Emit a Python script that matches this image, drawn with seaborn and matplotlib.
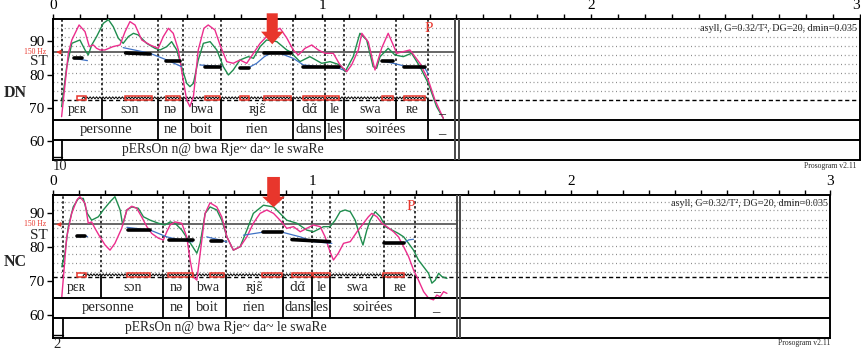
import numpy as np
import pandas as pd
import matplotlib
matplotlib.use("Agg")
import matplotlib.pyplot as plt
from matplotlib.patches import Rectangle
import seaborn as sns

sns.set_theme(style="white")
plt.rcParams["font.family"] = ["Liberation Serif", "DejaVu Serif"]

PINK = "#ec2d8d"
GREEN = "#1f8d4e"
BLUE = "#3f72c6"
RED = "#e8362c"
GRID = "#8c8c8c"

# ---------------- sentence DN ----------------
dn_pink_t = [0.032, 0.057, 0.070, 0.097, 0.119, 0.135, 0.150, 0.162, 0.175, 0.193,
             0.223, 0.249, 0.268, 0.286, 0.305, 0.330, 0.361, 0.391, 0.410, 0.429,
             0.447, 0.466, 0.482, 0.497, 0.509, 0.522, 0.540, 0.561, 0.577, 0.602,
             0.621, 0.646, 0.670, 0.695, 0.720, 0.745, 0.770, 0.794, 0.819, 0.844,
             0.869, 0.893, 0.912, 0.937, 0.962, 0.986, 1.011, 1.042, 1.067, 1.092,
             1.110, 1.135, 1.148, 1.172, 1.197, 1.222, 1.246, 1.278, 1.302, 1.327,
             1.364, 1.395, 1.420, 1.451]
dn_pink_st = [67.4, 86.4, 90.4, 94.9, 92.9, 88.4, 88.9, 87.9, 87.4, 87.4,
              88.4, 88.9, 92.9, 95.9, 94.9, 90.4, 88.9, 87.9, 91.4, 93.9,
              92.4, 87.4, 79.4, 72.4, 70.4, 73.4, 87.4, 93.9, 94.9, 93.4,
              88.9, 83.9, 83.4, 84.4, 83.4, 86.4, 89.4, 91.4, 92.9, 93.9,
              91.0, 87.4, 85.9, 87.9, 88.9, 87.4, 86.4, 86.4, 82.9, 80.9,
              82.9, 87.4, 92.4, 89.8, 81.4, 88.0, 92.4, 86.4, 86.9, 87.4,
              83.4, 78.4, 72.4, 66.9]

dn_green_t = [0.032, 0.051, 0.070, 0.100, 0.119, 0.131, 0.144, 0.162, 0.187, 0.206,
              0.224, 0.243, 0.261, 0.280, 0.299, 0.317, 0.348, 0.379, 0.398, 0.423,
              0.441, 0.460, 0.478, 0.497, 0.509, 0.522, 0.540, 0.559, 0.584, 0.609,
              0.633, 0.652, 0.670, 0.695, 0.726, 0.745, 0.770, 0.794, 0.832, 0.869,
              0.881, 0.918, 0.955, 0.999, 1.030, 1.067, 1.086, 1.116, 1.141, 1.166,
              1.190, 1.203, 1.216, 1.246, 1.271, 1.302, 1.333, 1.364, 1.395, 1.426,
              1.451]
dn_green_st = [70.4, 82.4, 89.4, 90.4, 87.4, 85.9, 88.9, 91.4, 95.4, 96.5,
               94.4, 90.9, 89.4, 91.4, 92.4, 91.9, 89.4, 87.9, 87.4, 88.4,
               89.9, 87.4, 82.4, 77.4, 76.4, 77.4, 84.4, 89.4, 89.9, 87.4,
               82.4, 79.9, 81.4, 84.4, 85.4, 84.9, 88.4, 90.4, 89.9, 87.4,
               86.9, 83.9, 85.4, 83.4, 83.9, 82.9, 80.9, 85.4, 92.4, 90.4,
               82.4, 81.9, 85.4, 87.9, 85.9, 85.4, 86.4, 82.4, 77.4, 70.4,
               66.9]

dn_blue_seg = [0, 0, 1, 1, 1, 1, 2, 2, 3, 3, 3, 3, 3, 4, 4, 4, 4, 4, 4, 5, 5, 5, 5, 5]
dn_blue_t = [0.078, 0.128, 0.261, 0.361, 0.423, 0.478, 0.546, 0.628,
             0.695, 0.727, 0.757, 0.786, 0.807, 0.844, 0.893, 0.931, 0.993, 1.064, 1.079,
             1.222, 1.265, 1.306, 1.383, 1.395]
dn_blue_st = [84.9, 84.2, 88.1, 86.4, 84.4, 82.4, 82.9, 82.4,
              82.1, 82.1, 83.4, 85.4, 86.4, 86.4, 84.9, 82.9, 82.4, 81.9, 81.4,
              84.1, 83.4, 82.6, 81.9, 80.2]

dn_tone_t0 = [0.078, 0.270, 0.419, 0.564, 0.695, 0.786, 0.931, 1.222, 1.306]
dn_tone_t1 = [0.107, 0.361, 0.472, 0.621, 0.727, 0.885, 1.064, 1.265, 1.383]
dn_tone_st0 = [84.9, 86.5, 84.0, 82.4, 82.1, 86.4, 82.3, 84.1, 82.4]
dn_tone_st1 = [84.9, 86.2, 84.0, 82.4, 82.1, 86.4, 82.3, 84.1, 82.4]

dn_nuc_t0 = [0.088, 0.268, 0.419, 0.564, 0.695, 0.786, 0.931, 1.011, 1.222, 1.306]
dn_nuc_t1 = [0.123, 0.367, 0.473, 0.621, 0.727, 0.885, 1.011, 1.064, 1.265, 1.383]

dn_syll_bounds = [0.0, 0.181, 0.391, 0.482, 0.623, 0.893, 1.011, 1.083, 1.274, 1.393, 1.494]
dn_word_bounds = [0.0, 0.391, 0.482, 0.623, 0.893, 1.011, 1.083, 1.393, 1.494]

# ---------------- sentence NC ----------------
nc_pink_t = [0.034, 0.053, 0.072, 0.092, 0.104, 0.124, 0.136, 0.149, 0.162, 0.181,
             0.201, 0.220, 0.239, 0.265, 0.285, 0.304, 0.323, 0.342, 0.362, 0.381,
             0.407, 0.426, 0.439, 0.452, 0.470, 0.497, 0.516, 0.529, 0.541, 0.555,
             0.568, 0.587, 0.606, 0.632, 0.651, 0.671, 0.696, 0.722, 0.748, 0.773,
             0.799, 0.825, 0.851, 0.876, 0.902, 0.928, 0.954, 0.979, 1.005, 1.031,
             1.050, 1.069, 1.082, 1.101, 1.121, 1.147, 1.173, 1.198, 1.217, 1.230,
             1.250, 1.269, 1.288, 1.314, 1.333, 1.353, 1.372, 1.391, 1.410, 1.430,
             1.449, 1.468, 1.481, 1.494, 1.507, 1.520]
nc_pink_st = [65.5, 83.1, 90.0, 93.9, 94.9, 92.9, 87.1, 87.5, 85.6, 83.1,
              80.7, 79.2, 81.2, 85.6, 91.0, 92.1, 91.5, 89.0, 86.1, 84.1,
              82.7, 82.2, 84.6, 86.6, 87.5, 87.1, 83.1, 76.3, 71.4, 70.4,
              78.3, 90.0, 93.1, 91.9, 89.0, 83.1, 79.2, 80.2, 83.1, 87.1,
              90.0, 91.0, 90.0, 88.0, 85.6, 86.1, 84.6, 85.6, 86.6, 86.1,
              83.1, 78.7, 76.3, 78.3, 81.2, 81.7, 84.6, 87.1, 89.0, 90.0,
              89.0, 87.1, 86.1, 84.6, 83.1, 80.2, 77.3, 73.4, 70.4, 67.0,
              65.1, 64.6, 66.0, 65.5, 67.0, 66.5]

nc_green_t = [0.034, 0.046, 0.059, 0.078, 0.098, 0.117, 0.132, 0.149, 0.175, 0.194,
              0.220, 0.239, 0.259, 0.269, 0.285, 0.304, 0.329, 0.349, 0.375, 0.407,
              0.432, 0.452, 0.471, 0.497, 0.522, 0.555, 0.568, 0.587, 0.606, 0.632,
              0.651, 0.671, 0.696, 0.722, 0.748, 0.773, 0.812, 0.851, 0.876, 0.902,
              0.941, 0.979, 1.005, 1.044, 1.069, 1.089, 1.108, 1.127, 1.147, 1.166,
              1.185, 1.196, 1.211, 1.224, 1.243, 1.263, 1.282, 1.308, 1.333, 1.353,
              1.372, 1.391, 1.410, 1.430, 1.449, 1.462, 1.475, 1.488, 1.501, 1.520]
nc_green_st = [74.3, 78.3, 86.1, 91.9, 94.4, 94.4, 90.0, 88.0, 89.0, 91.0,
               93.4, 94.9, 91.0, 86.6, 91.0, 91.9, 91.5, 89.0, 88.0, 87.1,
               86.6, 87.5, 87.1, 85.1, 82.2, 78.3, 81.2, 90.0, 91.9, 91.0,
               88.0, 83.1, 79.2, 80.2, 85.1, 90.0, 92.4, 91.9, 90.0, 88.0,
               87.1, 85.1, 84.6, 86.1, 86.1, 88.0, 90.5, 91.0, 90.5, 88.0,
               83.1, 80.7, 85.1, 88.0, 90.5, 89.0, 86.1, 85.1, 84.1, 83.1,
               81.2, 79.2, 76.3, 74.3, 72.4, 69.5, 70.4, 72.4, 71.4, 70.9]

nc_blue_seg = [0, 0, 1, 1, 1, 1, 1, 2, 2, 2, 3, 3, 3, 3, 3, 3, 4, 4, 4, 4]
nc_blue_t = [0.094, 0.132, 0.285, 0.375, 0.439, 0.490, 0.539, 0.593, 0.654, 0.671,
             0.735, 0.812, 0.883, 0.954, 1.005, 1.076, 1.278, 1.353, 1.372, 1.391]
nc_blue_st = [83.3, 83.3, 85.9, 85.1, 83.1, 82.2, 81.6, 83.1, 82.0, 81.6,
              83.6, 84.5, 84.5, 83.1, 81.7, 81.2, 81.2, 81.2, 82.2, 82.4]

nc_tone_t0 = [0.094, 0.288, 0.448, 0.610, 0.812, 0.922, 1.278]
nc_tone_t1 = [0.124, 0.375, 0.539, 0.654, 0.883, 1.067, 1.353]
nc_tone_st0 = [83.3, 85.1, 82.2, 82.0, 84.5, 82.3, 81.2]
nc_tone_st1 = [83.3, 85.1, 82.2, 82.0, 84.5, 81.7, 81.2]

nc_nuc_t0 = [0.092, 0.285, 0.445, 0.606, 0.806, 0.922, 1.005, 1.275]
nc_nuc_t1 = [0.127, 0.375, 0.539, 0.658, 0.883, 0.999, 1.067, 1.353]

nc_syll_bounds = [0.0, 0.185, 0.426, 0.526, 0.668, 0.887, 1.001, 1.069, 1.278, 1.398, 1.559]
nc_word_bounds = [0.0, 0.426, 0.526, 0.668, 0.887, 1.001, 1.069, 1.398, 1.559]

# ---------------- shared tiers ----------------
syll_labels = ["pɛʀ", "sɔn", "nə", "bwa", "ʀjɛ̃", "dɑ̃", "le", "swa", "ʀe", "_"]
word_labels = ["personne", "ne", "boit", "rien", "dans", "les", "soirées", "_"]
phon_text = "pERsOn n@ bwa Rje~ da~ le swaRe"
y_ticks = [60, 70, 80, 90]
x_ticks = [0, 1, 2, 3]
ref_st = 86.74          # 150 Hz expressed in semitones re 1 Hz
params_text = "asyll, G=0.32/T², DG=20, dmin=0.035"

W, H = 862, 352


def px_rect(x0, y0, x1, y1):
    return [x0 / W, 1 - y1 / H, (x1 - x0) / W, (y1 - y0) / H]


def draw_panel(ax, P):
    ylo, yhi = P["ylim"]
    base, sw, wt = P["tiers"]
    t_end = P["syll"][-1]
    ax.set_xlim(0, 3)
    ax.set_ylim(ylo, yhi)
    ax.grid(False)

    # dotted pitch grid
    for g in P["grid"]:
        ax.plot([0, 3], [g, g], color=GRID, lw=0.9, ls=(0, (0.8, 2.2)), zorder=1)
    # 150 Hz reference
    ax.plot([0, t_end], [ref_st, ref_st], color="#666666", lw=1.4, zorder=2)
    # bottom of pitch area
    ax.plot([0, 3], [base, base], color="black", lw=1.0, ls=(0, (3, 2)), zorder=3)

    # syllable boundaries in the pitch area
    for b in [P["onset"]] + P["syll"][1:-1]:
        ax.plot([b, b], [base, yhi], color="black", lw=1.1, ls=(0, (1.6, 1.6)), zorder=3)

    # contours
    sns.lineplot(x=P["green_t"], y=P["green_st"], ax=ax, color=GREEN, lw=1.0,
                 sort=False, estimator=None, legend=False, zorder=5)
    sns.lineplot(x=P["pink_t"], y=P["pink_st"], ax=ax, color=PINK, lw=1.0,
                 sort=False, estimator=None, legend=False, zorder=6)
    blue = pd.DataFrame({"t": P["blue_t"], "st": P["blue_st"], "seg": P["blue_seg"]})
    sns.lineplot(data=blue, x="t", y="st", units="seg", ax=ax, color=BLUE, lw=0.9,
                 sort=False, estimator=None, legend=False, zorder=7)
    n = len(P["tone_t0"])
    tones = pd.DataFrame({
        "t": list(P["tone_t0"]) + list(P["tone_t1"]),
        "st": list(P["tone_st0"]) + list(P["tone_st1"]),
        "seg": list(range(n)) * 2,
    })
    sns.lineplot(data=tones, x="t", y="st", units="seg", ax=ax, color="black", lw=2.6,
                 sort=False, estimator=None, legend=False, zorder=8)

    # voicing zigzag and nucleus boxes
    zz0, zz1 = P["zigzag"]
    zx = np.arange(zz0, zz1, 0.006)
    zy = P["box_mid"] + np.where(np.arange(len(zx)) % 2 == 0, -0.3, 0.3)
    ax.plot(zx, zy, color="black", lw=0.7, zorder=4)
    bh = P["box_h"]
    for a, b in zip(P["nuc_t0"], P["nuc_t1"]):
        ax.add_patch(Rectangle((a, P["box_mid"] - bh / 2), b - a, bh, fill=False,
                               ec=RED, lw=1.1, zorder=9))

    # tiers
    for y in (sw, wt):
        ax.plot([0, 3], [y, y], color="black", lw=1.4, zorder=10)
    for b in P["syll"][1:]:
        ax.plot([b, b], [sw, base], color="black", lw=1.3, zorder=10)
    for b in P["word"][1:]:
        ax.plot([b, b], [wt, sw], color="black", lw=1.3, zorder=10)
    ax.plot([P["onset"], P["onset"]], [ylo, wt], color="black", lw=1.3, zorder=10)
    ax.plot([0, P["onset"]], [ylo + 0.9, ylo + 0.9], color="black", lw=1.0, zorder=10)
    for tx in P["double"]:
        ax.plot([tx, tx], [ylo, yhi], color="#4a4a4a", lw=1.4, zorder=10)

    sb = P["syll"]
    for i, lab in enumerate(syll_labels):
        nasal = "\u0303" in lab
        ax.text((sb[i] + sb[i + 1]) / 2, (base + sw) / 2, lab, ha="center", va="center",
                fontsize=9 if nasal else 10,
                family=["DejaVu Serif"] if nasal else ["Liberation Serif", "DejaVu Serif"],
                zorder=11)
    wb = P["word"]
    for i, lab in enumerate(word_labels):
        ax.text((wb[i] + wb[i + 1]) / 2, (sw + wt) / 2, lab, ha="center", va="center",
                fontsize=10.5, zorder=11)
    ax.text(P["phon_x"], (wt + ylo) / 2, phon_text, ha="center", va="center",
            fontsize=9.8, zorder=11)

    # markers
    ax.text(P["pause_t"], P["pause_st"], "P", color=RED, fontsize=11, ha="center",
            va="center", zorder=12)
    at, a0, a1, aw, ahw, ahl = P["arrow"]
    ax.arrow(at, a0, 0, a1 - a0, width=aw, head_width=ahw, head_length=ahl,
             length_includes_head=True, color=RED, lw=0, clip_on=False, zorder=13)

    # axes
    ax.xaxis.tick_top()
    ax.set_xticks(x_ticks)
    ax.set_xticklabels([str(v) for v in x_ticks])
    ax.set_xticks(np.arange(0, 3.001, 0.1), minor=True)
    ax.tick_params(axis="x", which="both", direction="out", length=3.5, width=1.0,
                   top=True, bottom=False, labeltop=True, labelbottom=False,
                   pad=1.5, labelsize=11, colors="black")
    if P["last_right"]:
        ax.get_xticklabels()[-1].set_horizontalalignment("right")
    ax.set_yticks(y_ticks)
    ax.set_yticklabels([str(v) for v in y_ticks])
    ax.tick_params(axis="y", which="both", direction="out", length=4, width=1.0,
                   left=True, right=False, pad=2, labelsize=11, colors="black")
    ax.set_xlabel("")
    ax.set_ylabel("")
    for s in ax.spines.values():
        s.set_visible(True)
        s.set_color("black")
        s.set_linewidth(1.4)

    ax.annotate("ST", xy=(0, P["st_label"]), xycoords=("axes fraction", "data"),
                xytext=(-4, 0), textcoords="offset points", ha="right", va="center",
                fontsize=11)
    ax.annotate("150 Hz", xy=(0, ref_st), xycoords=("axes fraction", "data"),
                xytext=(-5, 0), textcoords="offset points", ha="right", va="center",
                fontsize=5.5, color=RED)
    ax.annotate("", xy=(0.002, ref_st), xytext=(0.03, ref_st),
                arrowprops=dict(arrowstyle="-|>", color=RED, lw=0.8, mutation_scale=6),
                zorder=12)
    ax.text(P["param_xy"][0], P["param_xy"][1], params_text, transform=ax.transAxes,
            ha="right", va="center", fontsize=7.3, zorder=12)


fig = plt.figure(figsize=(W / 100, H / 100), dpi=100)
fig.patch.set_facecolor("white")

panels = [
    dict(rect=(53, 19.3, 860, 160), ylim=(54.4, 96.6), tiers=(72.4, 66.4, 60.4),
         grid=[75.1, 77.8, 80.5, 83.1, 85.8, 88.5, 91.2, 93.9],
         onset=0.032, syll=dn_syll_bounds, word=dn_word_bounds,
         pink_t=dn_pink_t, pink_st=dn_pink_st, green_t=dn_green_t, green_st=dn_green_st,
         blue_t=dn_blue_t, blue_st=dn_blue_st, blue_seg=dn_blue_seg,
         tone_t0=dn_tone_t0, tone_t1=dn_tone_t1, tone_st0=dn_tone_st0, tone_st1=dn_tone_st1,
         nuc_t0=dn_nuc_t0, nuc_t1=dn_nuc_t1, box_mid=73.05, box_h=1.3, zigzag=(0.108, 1.394),
         double=(1.494, 1.509), phon_x=0.632, pause_t=1.398, pause_st=93.9,
         arrow=(0.815, 98.4, 89.1, 0.041, 0.083, 3.8), st_label=83.9,
         param_xy=(0.996, 0.938), name="DN", name_y=93, tag="10", tag_y=167,
         ver_xy=(856.7, 165.7), last_right=True),
    dict(rect=(53, 195, 830.5, 338.3), ylim=(53.3, 95.4), tiers=(71.2, 65.2, 59.4),
         grid=[72.9, 75.3, 78.0, 80.4, 83.1, 85.6, 88.2, 90.9, 93.4],
         onset=0.037, syll=nc_syll_bounds, word=nc_word_bounds,
         pink_t=nc_pink_t, pink_st=nc_pink_st, green_t=nc_green_t, green_st=nc_green_st,
         blue_t=nc_blue_t, blue_st=nc_blue_st, blue_seg=nc_blue_seg,
         tone_t0=nc_tone_t0, tone_t1=nc_tone_t1, tone_st0=nc_tone_st0, tone_st1=nc_tone_st1,
         nuc_t0=nc_nuc_t0, nuc_t1=nc_nuc_t1, box_mid=71.95, box_h=1.3, zigzag=(0.116, 1.39),
         double=(1.559, 1.571), phon_x=0.666, pause_t=1.381, pause_st=91.9,
         arrow=(0.851, 100.7, 91.8, 0.049, 0.088, 3.1), st_label=83.6,
         param_xy=(0.997, 0.944), name="NC", name_y=262, tag="2", tag_y=344,
         ver_xy=(830, 343), last_right=False),
]

for P in panels:
    ax = fig.add_axes(px_rect(*P["rect"]))
    draw_panel(ax, P)
    fig.text(15 / W, 1 - P["name_y"] / H, P["name"], ha="center", va="center",
             fontsize=11.5, fontweight="bold")
    fig.text(53 / W, 1 - P["tag_y"] / H, P["tag"], ha="left", va="center", fontsize=10.5)
    fig.text(P["ver_xy"][0] / W, 1 - P["ver_xy"][1] / H, "Prosogram v2.11", ha="right",
             va="center", fontsize=5.5)

fig.savefig("out.png", dpi=100, facecolor="white")
